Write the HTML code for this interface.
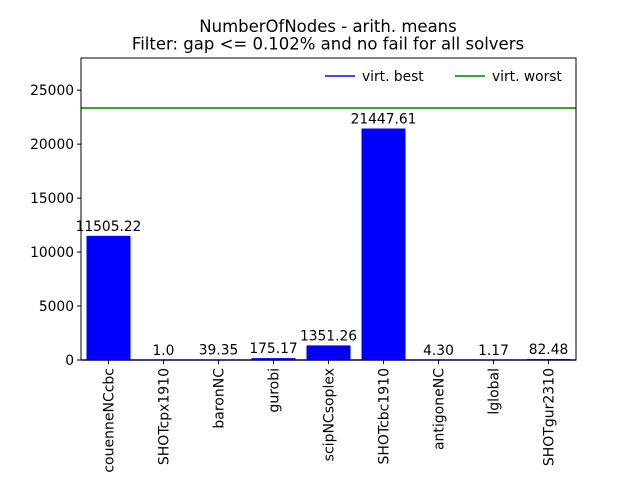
<!DOCTYPE html>
<html><head><meta charset="utf-8"><style>
body{margin:0;background:#fff;}
svg{display:block;font-family:"DejaVu Sans","Liberation Sans",sans-serif;}
</style></head><body>
<svg id="chart" width="640" height="480" viewBox="0 0 640 480" xmlns="http://www.w3.org/2000/svg">
<rect width="640" height="480" fill="#fff"/>
<text x="328" y="32" text-anchor="middle" font-size="16.5">NumberOfNodes - arith. means</text>
<text x="328" y="49.5" text-anchor="middle" font-size="16.5">Filter: gap &lt;= 0.102% and no fail for all solvers</text>
<g id="plot"></g>
</svg>
<script>
const categories=["couenneNCcbc","SHOTcpx1910","baronNC","gurobi","scipNCsoplex","SHOTcbc1910","antigoneNC","lglobal","SHOTgur2310"];
const values=[11505.22,1.0,39.35,175.17,1351.26,21447.61,4.30,1.17,82.48];
const labels=["11505.22","1.0","39.35","175.17","1351.26","21447.61","4.30","1.17","82.48"];
const yTicks=[0,5000,10000,15000,20000,25000];
const virtBest=1.0;
const virtWorst=23350;
const L=81,R=576,T=58,B=360,yMax=27980;
const NS="http://www.w3.org/2000/svg";
const g=document.getElementById('plot');
function y(v){return B-(v/yMax)*(B-T);}
function x(i){return L+(i+0.5)*(R-L)/categories.length;}
function mk(tag,attrs){const e=document.createElementNS(NS,tag);for(const k in attrs)e.setAttribute(k,attrs[k]);g.appendChild(e);return e;}
const bw=0.8*(R-L)/categories.length;
values.forEach((v,i)=>{
 const r=mk('rect',{x:x(i)-bw/2,y:y(v),width:bw,height:B-y(v),fill:'#0000ff'});
 
 
 const t=mk('text',{x:x(i),y:y(v)-5,'text-anchor':'middle','font-size':'13.8'});
 t.textContent=labels[i];
 
 
 const tk=mk('line',{x1:x(i),x2:x(i),y1:B,y2:B+4,stroke:'#000'});
 
 
 const xl=mk('text',{transform:`translate(${x(i)+5},${B+8}) rotate(-90)`,'text-anchor':'end','font-size':'14'});
 xl.textContent=categories[i];
 
 
});
yTicks.forEach(v=>{
 const tk=mk('line',{x1:L-4,x2:L,y1:y(v),y2:y(v),stroke:'#000'});
 
 
 const t=mk('text',{x:L-7,y:y(v)+5,'text-anchor':'end','font-size':'13.8'});
 t.textContent=v;
 
 
});
const lb=mk('line',{x1:L,x2:R,y1:y(virtBest),y2:y(virtBest),stroke:'#0000ff','stroke-width':1.5});


const lw=mk('line',{x1:L,x2:R,y1:y(virtWorst),y2:y(virtWorst),stroke:'#008000','stroke-width':1.5});


const fr=mk('rect',{x:L,y:T,width:R-L,height:B-T,fill:'none',stroke:'#000','stroke-width':1});


const leg=[["virt. best","#0000ff",325],["virt. worst","#008000",455]];
leg.forEach(l=>{
 const ln=mk('line',{x1:l[2],x2:l[2]+30,y1:76,y2:76,stroke:l[1],'stroke-width':1.5});
 
 
 const t=mk('text',{x:l[2]+37,y:81,'font-size':'13.8'});
 t.textContent=l[0];
 
 
});
</script>
</body></html>
